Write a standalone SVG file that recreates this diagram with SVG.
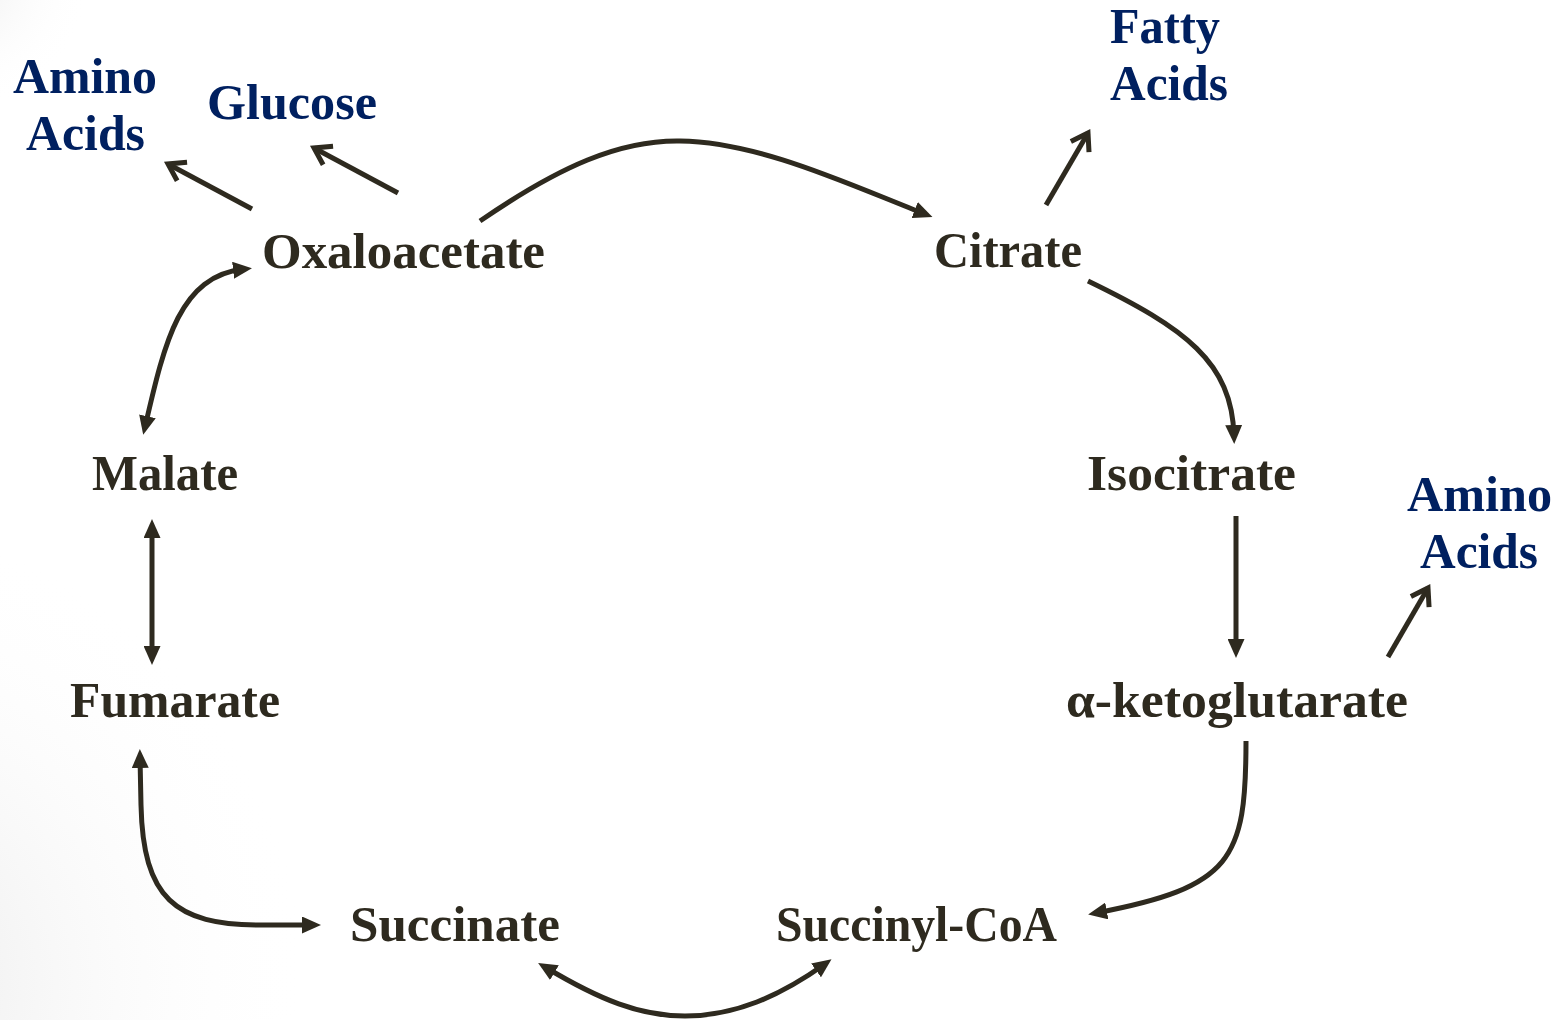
<svg xmlns="http://www.w3.org/2000/svg" width="1560" height="1020" viewBox="0 0 1560 1020">
  <defs>
    <style>
      .lbl { font-family: "Liberation Serif", "Times New Roman", serif; font-weight: bold; font-size: 50px; fill: #2e2a1f; }
      .out { font-family: "Liberation Serif", "Times New Roman", serif; font-weight: bold; font-size: 50px; fill: #002060; }
      .conn { fill: none; stroke: #2e2a1f; stroke-width: 5; }
    </style>
    <!-- filled triangular head -->
    <marker id="head" markerUnits="userSpaceOnUse" viewBox="0 0 19 17" markerWidth="19" markerHeight="17" refX="11" refY="8.5" orient="auto-start-reverse">
      <path d="M0,0 L19,8.5 L0,17 z" fill="#2e2a1f"/>
    </marker>
    <!-- open chevron head -->
    <marker id="open" markerUnits="userSpaceOnUse" viewBox="-20 -14 24 28" markerWidth="24" markerHeight="28" refX="0" refY="0" orient="auto" overflow="visible">
      <path d="M-16,-10.5 L0,0 L-16,10.5" fill="none" stroke="#2e2a1f" stroke-width="5" stroke-linejoin="miter"/>
    </marker>
    <radialGradient id="shadeBL" cx="-150" cy="980" r="460" gradientUnits="userSpaceOnUse">
      <stop offset="0" stop-color="#e8e8e8"/>
      <stop offset="1" stop-color="#ffffff" stop-opacity="0"/>
    </radialGradient>
    <radialGradient id="shadeTL" cx="-40" cy="-20" r="130" gradientUnits="userSpaceOnUse">
      <stop offset="0" stop-color="#eeeeee"/>
      <stop offset="1" stop-color="#ffffff" stop-opacity="0"/>
    </radialGradient>
  </defs>

  <rect width="1560" height="1020" fill="#ffffff"/>
  <rect width="1560" height="1020" fill="url(#shadeBL)"/>
  <rect width="1560" height="1020" fill="url(#shadeTL)"/>

  <!-- connectors -->
  <g id="connectors">
    <path class="conn" marker-end="url(#open)" d="M252,209 L168,164"/>
    <path class="conn" marker-end="url(#open)" d="M398,193 L314,148"/>
    <path class="conn" marker-end="url(#head)" d="M480,221 C560,166 620,140 680,141 C760,142 850,185 925,214"/>
    <path class="conn" marker-end="url(#open)" d="M1046,205 L1088,133"/>
    <path class="conn" marker-end="url(#head)" d="M1088,281 C1185,328 1232,362 1234,436"/>
    <path class="conn" marker-end="url(#head)" d="M1236,516 L1236,650"/>
    <path class="conn" marker-end="url(#open)" d="M1388,657 L1428,588"/>
    <path class="conn" marker-end="url(#head)" d="M1246,741 C1246,860 1232,887 1096,913"/>
    <path class="conn" marker-start="url(#head)" marker-end="url(#head)" d="M545,967 C600,1000 640,1016 685,1016 C735,1016 780,996 825,964"/>
    <path class="conn" marker-start="url(#head)" marker-end="url(#head)" d="M140,757 L141,805 C143,898 175,925 260,925 L313,925"/>
    <path class="conn" marker-start="url(#head)" marker-end="url(#head)" d="M152,527 L152,657"/>
    <path class="conn" marker-start="url(#head)" marker-end="url(#head)" d="M145,427 C165,340 180,276 244,269"/>
  </g>

  <!-- metabolites of the cycle -->
  <g id="oxaloacetate"><text class="lbl" x="262" y="268" textLength="283" lengthAdjust="spacingAndGlyphs">Oxaloacetate</text></g>
  <g id="citrate"><text class="lbl" x="934" y="267" textLength="148" lengthAdjust="spacingAndGlyphs">Citrate</text></g>
  <g id="isocitrate"><text class="lbl" x="1087" y="490" textLength="209" lengthAdjust="spacingAndGlyphs">Isocitrate</text></g>
  <g id="alpha-ketoglutarate"><text class="lbl" x="1066" y="717" textLength="342" lengthAdjust="spacingAndGlyphs">α-ketoglutarate</text></g>
  <g id="succinyl-coa"><text class="lbl" x="776" y="941" textLength="281" lengthAdjust="spacingAndGlyphs">Succinyl-CoA</text></g>
  <g id="succinate"><text class="lbl" x="350" y="941" textLength="210" lengthAdjust="spacingAndGlyphs">Succinate</text></g>
  <g id="fumarate"><text class="lbl" x="70" y="717" textLength="210" lengthAdjust="spacingAndGlyphs">Fumarate</text></g>
  <g id="malate"><text class="lbl" x="92" y="490" textLength="146" lengthAdjust="spacingAndGlyphs">Malate</text></g>

  <!-- products drawn off the cycle -->
  <g id="amino-acids-left">
    <text class="out" x="13" y="93" textLength="144" lengthAdjust="spacingAndGlyphs">Amino</text>
    <text class="out" x="26" y="150" textLength="119" lengthAdjust="spacingAndGlyphs">Acids</text>
  </g>
  <g id="glucose"><text class="out" x="207" y="119" textLength="170" lengthAdjust="spacingAndGlyphs">Glucose</text></g>
  <g id="fatty-acids">
    <text class="out" x="1110" y="43" textLength="110" lengthAdjust="spacingAndGlyphs">Fatty</text>
    <text class="out" x="1110" y="100" textLength="118" lengthAdjust="spacingAndGlyphs">Acids</text>
  </g>
  <g id="amino-acids-right">
    <text class="out" x="1407" y="511" textLength="145" lengthAdjust="spacingAndGlyphs">Amino</text>
    <text class="out" x="1420" y="568" textLength="118" lengthAdjust="spacingAndGlyphs">Acids</text>
  </g>
</svg>
